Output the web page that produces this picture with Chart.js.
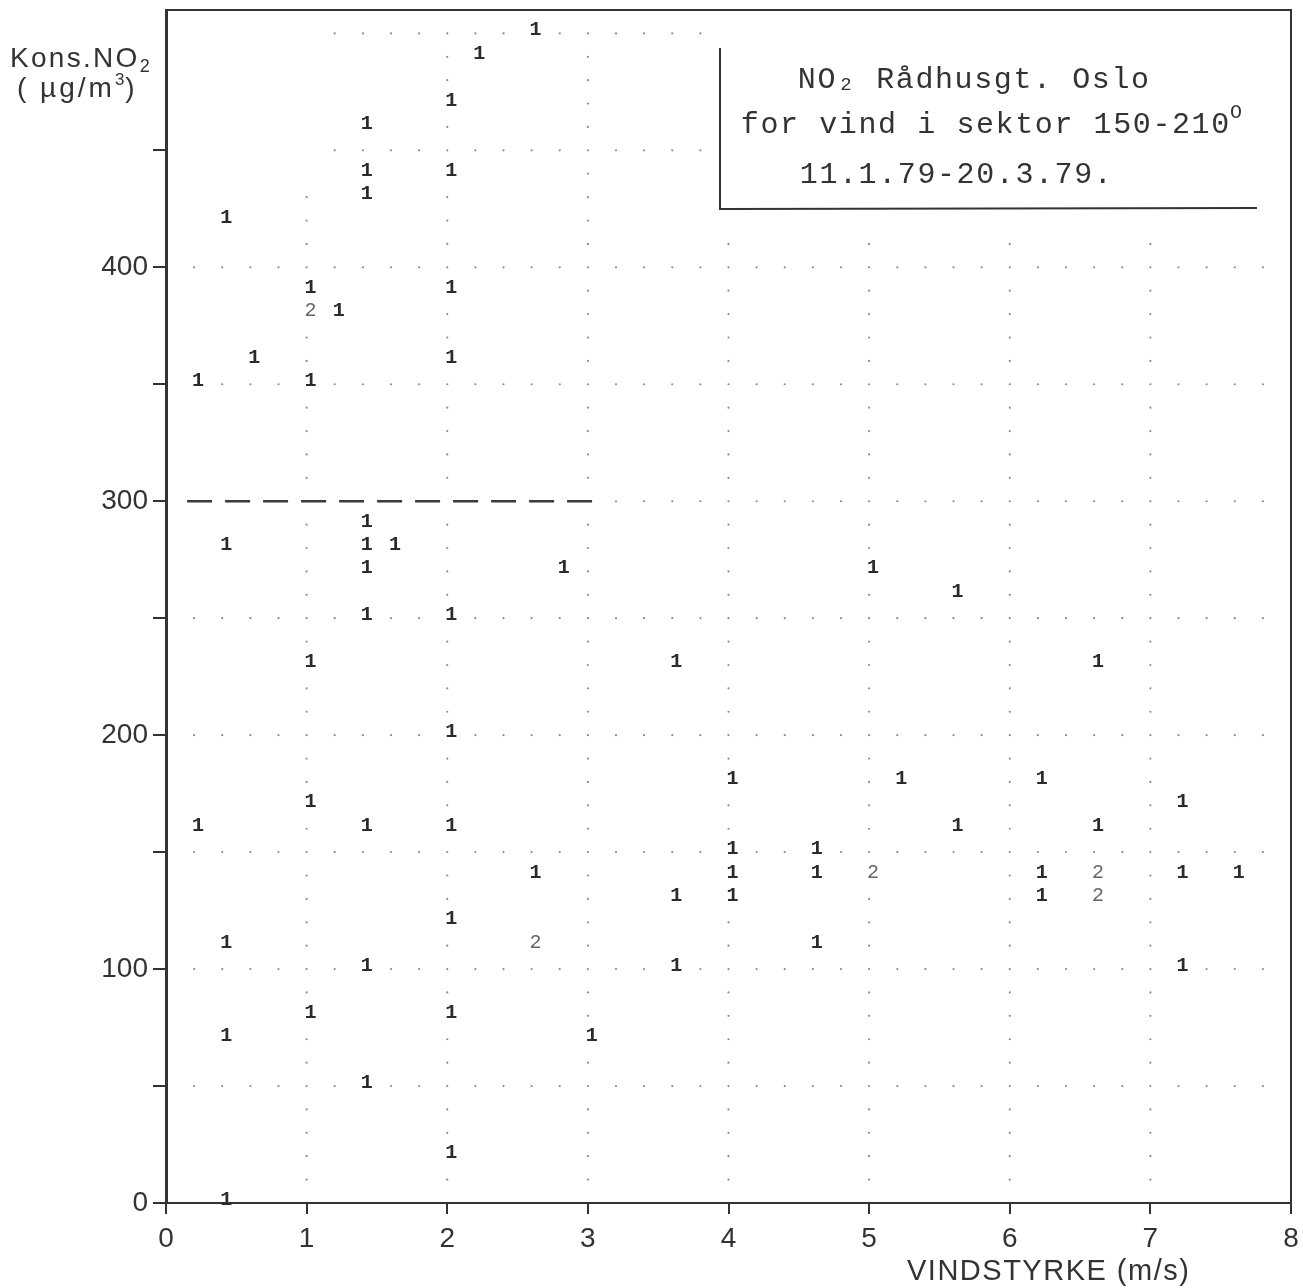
<!DOCTYPE html>
<html>
<head>
<meta charset="utf-8">
<script src="https://cdn.jsdelivr.net/npm/chart.js@4.4.1/dist/chart.umd.min.js"></script>
<style>
  html, body { margin: 0; padding: 0; background: #fff; }
</style>
</head>
<body>
<canvas id="no2Chart" width="1303" height="1288"></canvas>
<script>
// wind speed (m/s), NO2 (µg/m3) and the number of hours printed at each cell
const windSpeed = [
  2.6, 2.2, 2.0, 1.4, 1.4, 2.0, 1.4, 0.4, 1.0, 2.0, 1.0, 1.2, 0.6, 2.0, 0.2, 1.0,
  1.4, 0.4, 1.4, 1.6, 1.4, 2.8, 5.0, 5.6, 1.4, 2.0, 1.0, 3.6, 6.6, 2.0,
  4.0, 5.2, 6.2, 7.2, 1.0, 0.2, 1.4, 2.0, 5.6, 6.6, 4.0, 4.6,
  2.6, 4.0, 4.6, 5.0, 6.2, 6.6, 7.2, 7.6, 3.6, 4.0, 6.2, 6.6,
  2.0, 0.4, 2.6, 4.6, 1.4, 3.6, 7.2, 1.0, 2.0, 0.4, 3.0, 1.4, 2.0, 0.4
];
const no2 = [
  500, 490, 470, 460, 440, 440, 430, 420, 390, 390, 380, 380, 360, 360, 350, 350,
  290, 280, 280, 280, 270, 270, 270, 260, 250, 250, 230, 230, 230, 200,
  180, 180, 180, 170, 170, 160, 160, 160, 160, 160, 150, 150,
  140, 140, 140, 140, 140, 140, 140, 140, 130, 130, 130, 130,
  120, 110, 110, 110, 100, 100, 100, 80, 80, 70, 70, 50, 20, 0
];
const hours = [
  1, 1, 1, 1, 1, 1, 1, 1, 1, 1, 2, 1, 1, 1, 1, 1,
  1, 1, 1, 1, 1, 1, 1, 1, 1, 1, 1, 1, 1, 1,
  1, 1, 1, 1, 1, 1, 1, 1, 1, 1, 1, 1,
  1, 1, 1, 2, 1, 2, 1, 1, 1, 1, 1, 2,
  1, 1, 2, 1, 1, 1, 1, 1, 1, 1, 1, 1, 1, 1
];

const xTickLabels = [0, 1, 2, 3, 4, 5, 6, 7, 8];
const yTickLabels = [0, 100, 200, 300, 400];
const gridRows = [50, 100, 150, 200, 250, 300, 350, 400, 450, 500];
const gridCols = [1, 2, 3, 4, 5, 6, 7];
const limitValue = 300;

const ink = '#333';
const sans = '"Liberation Sans", Arial, sans-serif';
const mono = '"Liberation Mono", "Courier New", monospace';

// printer style dotted grid
const dotGrid = {
  id: 'dotGrid',
  beforeDatasetsDraw(chart) {
    const { ctx, scales: { x, y } } = chart;
    const taken = new Set(windSpeed.map((w, i) => w.toFixed(1) + '/' + no2[i]));
    ctx.save();
    ctx.fillStyle = '#8c8c8c';
    const dot = (vx, vy) => {
      if (taken.has(vx.toFixed(1) + '/' + vy)) return;
      ctx.beginPath();
      ctx.arc(x.getPixelForValue(vx), y.getPixelForValue(vy), 1.1, 0, Math.PI * 2);
      ctx.fill();
    };
    for (const r of gridRows) {
      for (let k = 1; k <= 39; k++) {
        const vx = k / 5;
        if (r >= 450 && (vx < 1.19 || vx > 3.81)) continue;
        if (r === limitValue && vx < 3.1) continue;
        dot(vx, r);
      }
    }
    for (const c of gridCols) {
      const top = c === 1 ? 430 : c <= 3 ? 490 : 410;
      for (let v = 10; v <= top; v += 10) {
        if (v % 50 === 0) continue;
        dot(c, v);
      }
    }
    // dashed limit line
    ctx.strokeStyle = '#3a3a3a';
    ctx.lineWidth = 2.5;
    ctx.setLineDash([25, 13]);
    ctx.beginPath();
    ctx.moveTo(x.getPixelForValue(0.15), y.getPixelForValue(limitValue));
    ctx.lineTo(x.getPixelForValue(3.04), y.getPixelForValue(limitValue));
    ctx.stroke();
    ctx.restore();
  }
};

// the counts are printed as digits at each point
const countLabels = {
  id: 'countLabels',
  afterDatasetsDraw(chart) {
    const { ctx } = chart;
    const meta = chart.getDatasetMeta(0);
    ctx.save();
    ctx.textAlign = 'center';
    ctx.textBaseline = 'middle';
    meta.data.forEach((pt, i) => {
      const n = hours[i];
      ctx.font = (n === 1 ? 'bold ' : '') + '20px ' + mono;
      ctx.fillStyle = n === 1 ? '#2b2b2b' : '#666';
      ctx.fillText(String(n), pt.x + 4, pt.y - 3);
    });
    ctx.restore();
  }
};

function monoText(ctx, text, x0, base, cell) {
  for (let i = 0; i < text.length; i++) {
    ctx.fillText(text[i], x0 + (i + 0.5) * cell, base);
  }
}

function runs(ctx, x, parts) {
  for (const p of parts) {
    ctx.font = p.size + 'px ' + sans;
    ctx.letterSpacing = (p.spacing || 0) + 'px';
    ctx.fillText(p.t, x, p.base);
    x += ctx.measureText(p.t).width;
  }
  ctx.letterSpacing = '0px';
}

const frame = {
  id: 'frame',
  afterDraw(chart) {
    const { ctx, chartArea: a } = chart;
    ctx.save();
    ctx.strokeStyle = ink;
    ctx.lineWidth = 2;
    ctx.beginPath();
    ctx.moveTo(a.left, a.top);
    ctx.lineTo(a.right, a.top);
    ctx.lineTo(a.right, a.bottom);
    ctx.stroke();

    // legend box
    ctx.fillStyle = '#fff';
    ctx.fillRect(721, a.top + 2, 1257 - 721, 206 - a.top - 2);
    ctx.beginPath();
    ctx.moveTo(720, 48);
    ctx.lineTo(720, 209);
    ctx.lineTo(1257, 208);
    ctx.stroke();

    ctx.fillStyle = ink;
    ctx.textAlign = 'center';
    ctx.textBaseline = 'alphabetic';
    const cell = 19.6;
    ctx.font = '30px ' + mono;
    monoText(ctx, 'NO', 797, 88, cell);
    monoText(ctx, ' Rådhusgt. Oslo', 797 + 3 * cell, 88, cell);
    monoText(ctx, 'for vind i sektor 150-210', 740, 133, cell);
    monoText(ctx, '11.1.79-20.3.79.', 799, 183, cell);
    ctx.font = '19px ' + mono;
    ctx.fillText('2', 797 + 2.5 * cell, 90);
    ctx.font = '20px ' + mono;
    ctx.fillText('O', 1236, 118);

    // axis titles
    ctx.textAlign = 'left';
    ctx.fillStyle = ink;
    runs(ctx, 10, [
      { t: 'Kons.NO', size: 28, spacing: 2.3, base: 67 },
      { t: '2', size: 18, base: 72 }
    ]);
    runs(ctx, 17, [
      { t: '( µg/m', size: 28, spacing: 3, base: 97 },
      { t: '3', size: 17, spacing: 1, base: 85 },
      { t: ')', size: 28, base: 97 }
    ]);
    runs(ctx, 907, [
      { t: 'VINDSTYRKE (m/s)', size: 29, spacing: 1.5, base: 1280 }
    ]);
    ctx.restore();
  }
};

new Chart(document.getElementById('no2Chart'), {
  type: 'scatter',
  data: {
    datasets: [{
      label: 'NO2',
      data: windSpeed.map((w, i) => ({ x: w, y: no2[i] })),
      pointRadius: 0,
      pointHoverRadius: 0
    }]
  },
  options: {
    responsive: false,
    animation: false,
    events: [],
    layout: { padding: { top: 10, right: 12, left: 0, bottom: 0 } },
    plugins: { legend: { display: false }, tooltip: { enabled: false } },
    scales: {
      x: {
        type: 'linear',
        min: xTickLabels[0],
        max: xTickLabels[xTickLabels.length - 1],
        afterFit: s => { s.height = 85; s.paddingLeft = 0; s.paddingRight = 0; },
        ticks: {
          stepSize: 1,
          padding: 8,
          maxRotation: 0,
          color: ink,
          font: { family: sans, size: 28 },
          callback: v => xTickLabels.includes(v) ? String(v) : ''
        },
        grid: { drawOnChartArea: false, tickLength: 11, color: ink, lineWidth: 2 },
        border: { color: ink, width: 2 }
      },
      y: {
        type: 'linear',
        min: 0,
        max: 510,
        afterFit: s => { s.width = 166; s.paddingTop = 0; s.paddingBottom = 0; },
        afterBuildTicks: s => { s.ticks = s.ticks.filter(t => t.value <= 450); },
        ticks: {
          stepSize: 50,
          includeBounds: false,
          autoSkip: false,
          padding: 5,
          color: ink,
          font: { family: sans, size: 28 },
          callback: v => yTickLabels.includes(v) ? String(v) : ''
        },
        grid: { drawOnChartArea: false, tickLength: 13, color: ink, lineWidth: 2 },
        border: { color: ink, width: 3 }
      }
    }
  },
  plugins: [dotGrid, countLabels, frame]
});
</script>
</body>
</html>
